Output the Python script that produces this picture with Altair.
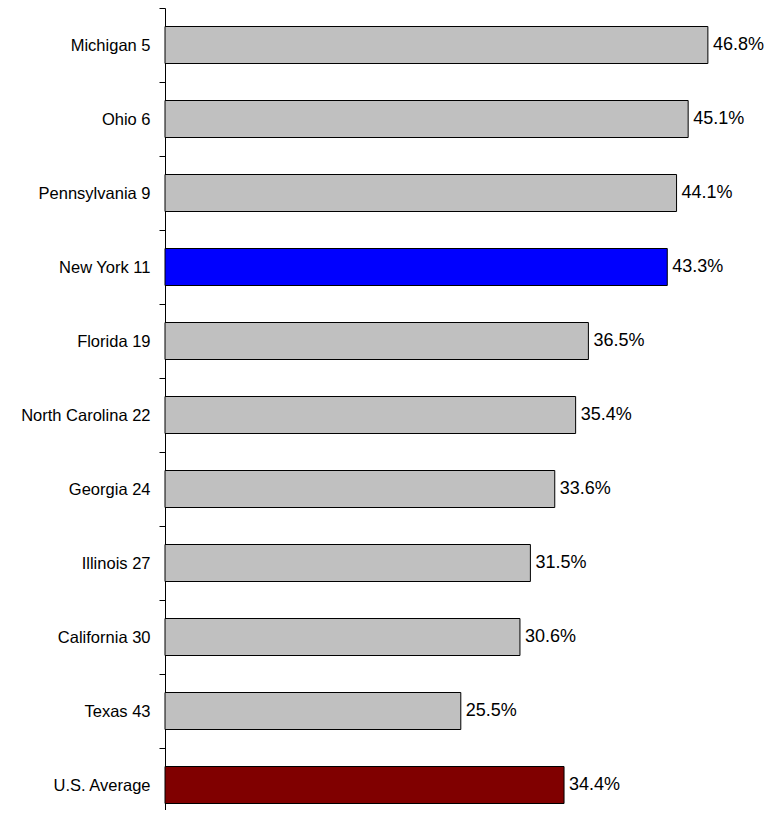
import altair as alt
import pandas as pd

states = ["Michigan 5", "Ohio 6", "Pennsylvania 9", "New York 11", "Florida 19",
          "North Carolina 22", "Georgia 24", "Illinois 27", "California 30",
          "Texas 43", "U.S. Average"]
values = [46.8, 45.1, 44.1, 43.3, 36.5, 35.4, 33.6, 31.5, 30.6, 25.5, 34.4]
groups = ["other", "other", "other", "ny", "other", "other", "other", "other",
          "other", "other", "us"]
labels = ["46.8%", "45.1%", "44.1%", "43.3%", "36.5%", "35.4%", "33.6%", "31.5%",
          "30.6%", "25.5%", "34.4%"]

df = pd.DataFrame({"state": states, "value": values, "group": groups, "label": labels})

FONT = "Liberation Sans, Arial, sans-serif"

yscale = alt.Scale(domain=states, range=[0, 814], paddingInner=0, paddingOuter=0)
xscale = alt.Scale(domain=[0, 50], nice=False, zero=True)

base = alt.Chart(df).encode(
    y=alt.Y("state:N", sort=states, scale=yscale,
            axis=alt.Axis(title=None, tickBand="extent", ticks=True, tickSize=6,
                          tickColor="#000000", domainColor="#000000", domainWidth=1,
                          labelFont=FONT, labelFontSize=16.5, labelColor="#000000",
                          labelPadding=9, grid=False)),
    x=alt.X("value:Q", scale=xscale, axis=None),
)

bars = base.mark_bar(stroke="#000000", strokeWidth=1,
                     height=alt.RelativeBandSize(0.5)).encode(
    color=alt.Color("group:N",
                    scale=alt.Scale(domain=["other", "ny", "us"],
                                    range=["#C0C0C0", "#0000FF", "#800000"]),
                    legend=None)
)

text = base.mark_text(align="left", baseline="middle", dx=5, font=FONT,
                      fontSize=18, color="#000000").encode(text="label:N")

chart = (bars + text).properties(
    width=580, height=802,
    autosize=alt.AutoSizeParams(type="none"),
    padding={"left": 157, "top": 0, "right": 20, "bottom": 0},
).configure_view(stroke=None)

chart.save("out.html", embed_options={"renderer": "svg", "actions": False})
